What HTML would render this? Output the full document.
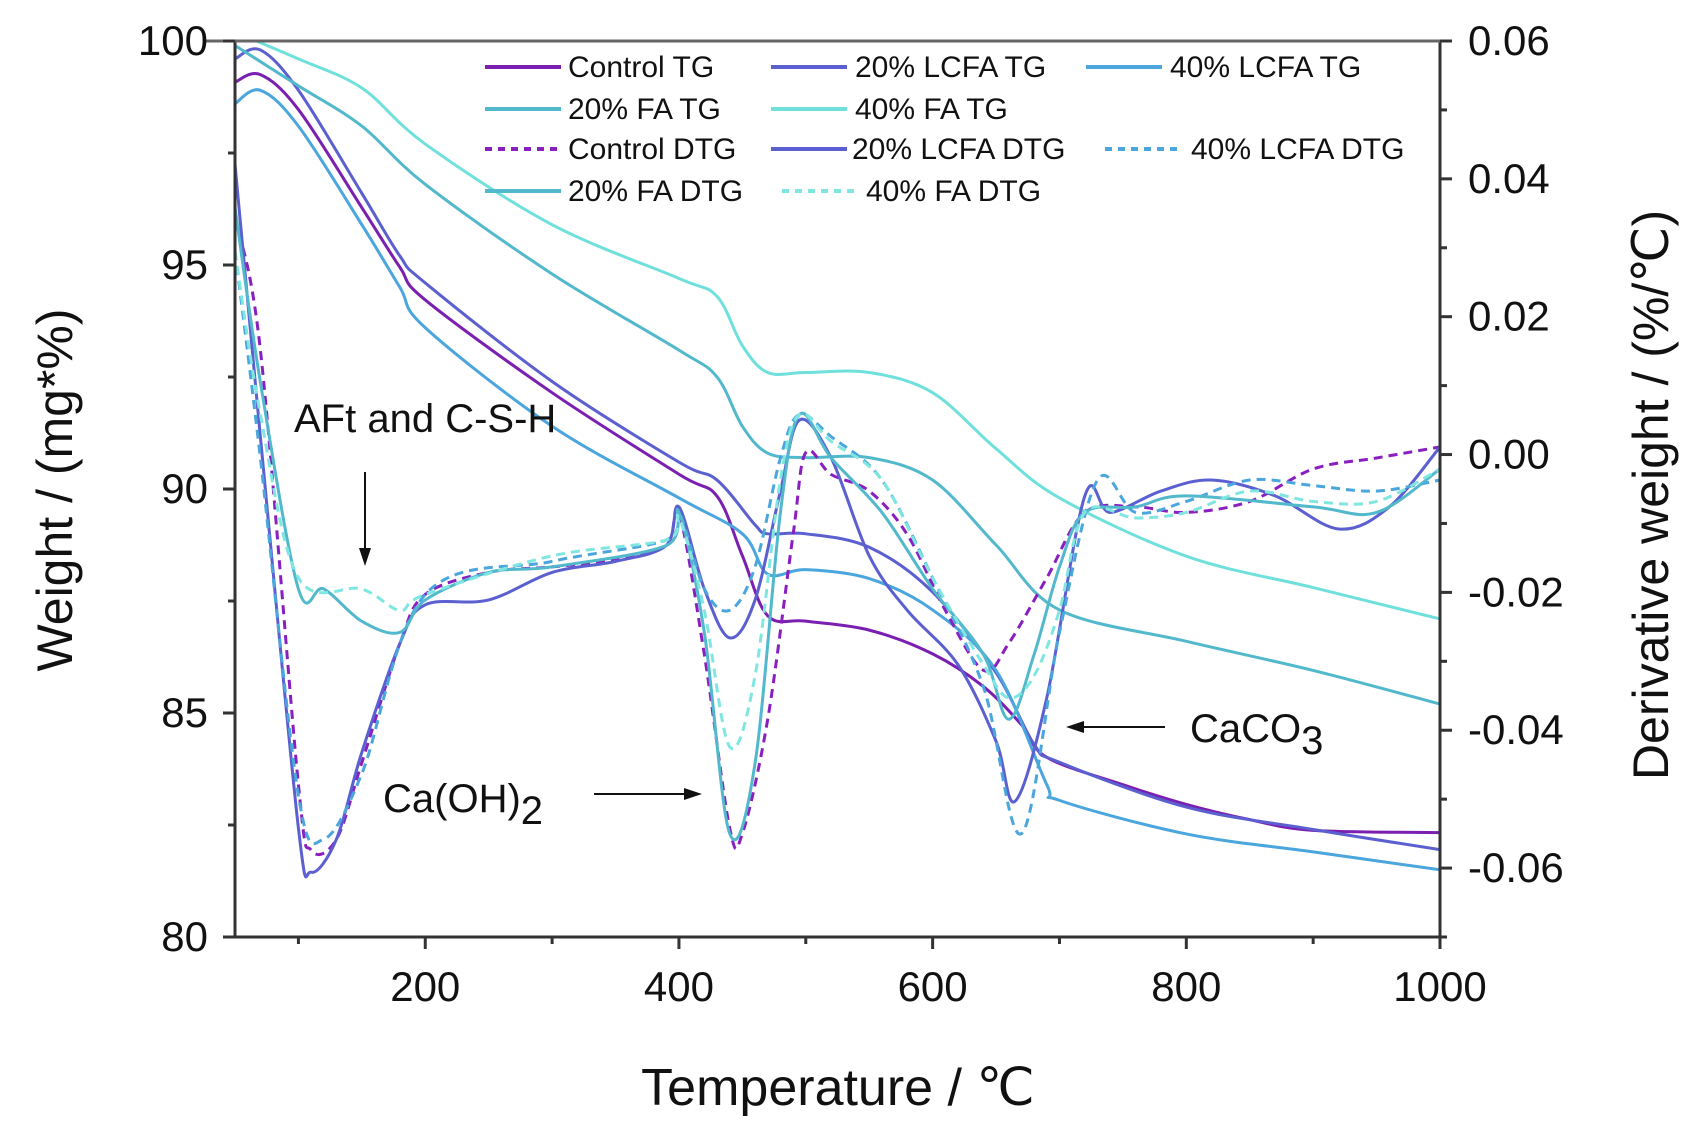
<!DOCTYPE html>
<html><head><meta charset="utf-8"><style>
html,body{margin:0;padding:0;background:#fff;}
svg{display:block;font-family:"Liberation Sans",sans-serif;}
</style></head><body>
<svg id="chart" width="1705" height="1140" viewBox="0 0 1705 1140"></svg>
<script>
const temps = [50,70,100,150,180,200,300,400,430,450,470,500,550,600,640,670,690,750,800,850,900,1000];
const controlTG = [99.08,99.25,98.47,96.28,94.95,94.22,92.15,90.33,89.84,88.51,87.17,87.05,86.85,86.32,85.59,84.74,84.01,83.40,82.96,82.62,82.38,82.33];
const lcfa20TGx = [50,70,100,150,180,200,300,400,430,460,470,500,550,600,650,680,700,800,900,1000];
const lcfa20TG = [99.6,99.8,98.9,96.6,95.2,94.6,92.4,90.6,90.2,89.2,89.0,89.0,88.7,87.7,85.9,84.3,83.9,82.9,82.4,81.95];
const lcfa40TGx = [50,70,100,150,180,200,300,400,450,470,500,550,600,650,690,700,800,900,1000];
const lcfa40TG = [98.6,98.9,98.1,95.9,94.5,93.6,91.4,89.8,89.0,88.1,88.2,88.0,87.3,85.95,83.4,83.05,82.3,81.9,81.5];
const fa20TGx = [50,100,150,200,300,400,430,450,470,500,550,600,650,700,800,900,1000];
const fa20TG = [99.9,99.0,98.1,96.8,94.8,93.1,92.5,91.4,90.8,90.7,90.7,90.2,88.75,87.3,86.6,85.95,85.2];
const fa40TGx = [50,100,150,200,300,400,430,450,470,500,550,600,650,700,800,900,1000];
const fa40TG = [100.2,99.6,98.95,97.7,95.9,94.7,94.3,93.2,92.6,92.6,92.6,92.15,90.9,89.8,88.5,87.8,87.1];

const ctrlDTGx = [50,70,100,110,130,150,180,200,250,300,350,390,400,420,440,450,470,490,500,520,550,580,610,640,660,690,720,760,800,850,900,950,1000];
const ctrlDTG = [0.0342,0.0152,-0.0479,-0.0574,-0.0558,-0.0447,-0.0274,-0.0203,-0.0171,-0.0163,-0.0152,-0.0132,-0.0084,-0.0290,-0.0542,-0.0550,-0.0384,-0.0116,0.0003,-0.0029,-0.0053,-0.0116,-0.0226,-0.0313,-0.0274,-0.0179,-0.0084,-0.0076,-0.0084,-0.0068,-0.0021,-0.0005,0.0011];
const lcfa20DTGx = [50,70,100,110,130,150,180,200,250,300,350,390,400,420,440,460,480,495,520,550,580,620,650,665,690,720,740,780,820,870,920,960,1000];
const lcfa20DTG = [0.0421,0.0026,-0.0542,-0.0606,-0.0558,-0.0432,-0.0274,-0.0218,-0.0211,-0.0171,-0.0155,-0.0132,-0.0076,-0.0195,-0.0266,-0.0211,-0.0053,0.0050,-0.0005,-0.0147,-0.0226,-0.0305,-0.0416,-0.0503,-0.0353,-0.0060,-0.0084,-0.0053,-0.0037,-0.0060,-0.0108,-0.0076,0.0011];
const lcfa40DTGx = [50,70,100,120,150,200,300,390,400,420,440,460,480,495,520,560,600,640,670,700,730,760,800,850,900,950,1000];
const lcfa40DTG = [0.0295,-0.0005,-0.0495,-0.0558,-0.0463,-0.0203,-0.0155,-0.0124,-0.0084,-0.0195,-0.0226,-0.0163,-0.0005,0.0058,0.0026,-0.0037,-0.0179,-0.0337,-0.0550,-0.0258,-0.0037,-0.0084,-0.0068,-0.0037,-0.0045,-0.0053,-0.0037];
const fa20DTGx = [50,70,100,120,150,180,200,250,300,390,400,420,440,460,480,495,520,560,600,640,660,680,700,720,760,800,900,950,1000];
const fa20DTG = [0.0358,0.0105,-0.0195,-0.0195,-0.0242,-0.0258,-0.0211,-0.0171,-0.0163,-0.0132,-0.0084,-0.0258,-0.0550,-0.0448,-0.0084,0.0058,-0.0005,-0.0084,-0.0195,-0.0290,-0.0384,-0.0290,-0.0163,-0.0084,-0.0076,-0.0060,-0.0076,-0.0084,-0.0021];
const fa40DTGx = [50,70,100,150,180,200,300,390,400,420,440,460,480,495,520,560,600,640,660,680,700,720,760,800,850,900,950,1000];
const fa40DTG = [0.0295,0.0058,-0.0179,-0.0195,-0.0226,-0.0203,-0.0147,-0.0124,-0.0092,-0.0226,-0.0424,-0.0321,-0.0037,0.0058,0.0019,-0.0037,-0.0179,-0.0305,-0.0353,-0.0321,-0.0226,-0.0084,-0.0092,-0.0084,-0.0053,-0.0068,-0.0068,-0.0021];

const xTicks = [200,400,600,800,1000];
const xMinor = [100,300,500,700,900];
const yTicks = [80,85,90,95,100];
const yMinor = [82.5,87.5,92.5,97.5];
const y2Ticks = [-0.06,-0.04,-0.02,0.00,0.02,0.04,0.06];
const y2Labels = ["-0.06","-0.04","-0.02","0.00","0.02","0.04","0.06"];
const y2Minor = [-0.07,-0.05,-0.03,-0.01,0.01,0.03,0.05];

const L=235,R=1440,T=41,B=937;
const xS=v=>L+(v-50)/950*(R-L);
const yS=v=>B-(v-80)/20*(B-T);
const y2S=v=>B-(v+0.07)/0.13*(B-T);
const NS="http://www.w3.org/2000/svg";
const svg=document.getElementById('chart');
function mk(tag,attrs,parent){const e=document.createElementNS(NS,tag);for(const k in attrs)e.setAttribute(k,attrs[k]);(parent||svg).appendChild(e);return e;}
function smooth(pts){let d=`M${pts[0][0]},${pts[0][1]}`;for(let i=0;i<pts.length-1;i++){const p0=pts[i-1]||pts[i],p1=pts[i],p2=pts[i+1],p3=pts[i+2]||p2;const c1x=p1[0]+(p2[0]-p0[0])/6,c1y=p1[1]+(p2[1]-p0[1])/6,c2x=p2[0]-(p3[0]-p1[0])/6,c2y=p2[1]-(p3[1]-p1[1])/6;d+=` C${c1x},${c1y} ${c2x},${c2y} ${p2[0]},${p2[1]}`;}return d;}

const defs=mk('defs',{});
const cp=mk('clipPath',{id:'clip'},defs);mk('rect',{x:L,y:T,width:R-L,height:B-T},cp);
const plot=mk('g',{'clip-path':'url(#clip)'});



const series=[
 {name:'control-tg',xs:temps,ys:controlTG,y:yS,c:'#7a1fb0',dash:null},
 {name:'lcfa20-tg',xs:lcfa20TGx,ys:lcfa20TG,y:yS,c:'#5b5fcf',dash:null},
 {name:'lcfa40-tg',xs:lcfa40TGx,ys:lcfa40TG,y:yS,c:'#4aa6dc',dash:null},
 {name:'fa20-tg',xs:fa20TGx,ys:fa20TG,y:yS,c:'#52b8cc',dash:null},
 {name:'fa40-tg',xs:fa40TGx,ys:fa40TG,y:yS,c:'#6fe0dc',dash:null},
 {name:'control-dtg',xs:ctrlDTGx,ys:ctrlDTG,y:y2S,c:'#8a1fc0',dash:'9,6'},
 {name:'lcfa20-dtg',xs:lcfa20DTGx,ys:lcfa20DTG,y:y2S,c:'#5b5fcf',dash:null},
 {name:'lcfa40-dtg',xs:lcfa40DTGx,ys:lcfa40DTG,y:y2S,c:'#4aa6dc',dash:'9,6'},
 {name:'fa20-dtg',xs:fa20DTGx,ys:fa20DTG,y:y2S,c:'#52b8cc',dash:null},
 {name:'fa40-dtg',xs:fa40DTGx,ys:fa40DTG,y:y2S,c:'#7fe6e0',dash:'9,6'}
];
series.forEach(s=>{const pts=s.xs.map((x,i)=>[xS(x),s.y(s.ys[i])]);const a={d:smooth(pts),fill:'none',stroke:s.c,'stroke-width':3};if(s.dash)a['stroke-dasharray']=s.dash;const p=mk('path',a,plot);

});

const ax=mk('g',{stroke:'#333','stroke-width':3,fill:'none'});


mk('line',{x1:L,y1:T,x2:L,y2:B},ax);
mk('line',{x1:L,y1:B,x2:R+4,y2:B},ax);
mk('line',{x1:R,y1:T,x2:R,y2:B+10},ax);
mk('line',{x1:L-32,y1:T,x2:R,y2:T,stroke:'#666'},ax);
xTicks.forEach(v=>{mk('line',{x1:xS(v),y1:B,x2:xS(v),y2:B+12},ax);const t=mk('text',{x:xS(v),y:B+64,'text-anchor':'middle','font-size':42,fill:'#111',stroke:'none'});t.textContent=v;

});
xMinor.forEach(v=>mk('line',{x1:xS(v),y1:B,x2:xS(v),y2:B+7},ax));
yTicks.forEach(v=>{mk('line',{x1:L,y1:yS(v),x2:L-12,y2:yS(v)},ax);const t=mk('text',{x:208,y:yS(v)+14,'text-anchor':'end','font-size':42,fill:'#111',stroke:'none'});t.textContent=v;

});
yMinor.forEach(v=>mk('line',{x1:L,y1:yS(v),x2:L-7,y2:yS(v)},ax));
y2Ticks.forEach((v,i)=>{mk('line',{x1:R,y1:y2S(v),x2:R+12,y2:y2S(v)},ax);const t=mk('text',{x:1468,y:y2S(v)+14,'font-size':42,fill:'#111',stroke:'none'});t.textContent=y2Labels[i];

});
y2Minor.forEach(v=>mk('line',{x1:R,y1:y2S(v),x2:R+7,y2:y2S(v)},ax));
</script>
<script>
(function(){
const svg=document.getElementById('chart');const NS="http://www.w3.org/2000/svg";
function mk(tag,attrs,parent){const e=document.createElementNS(NS,tag);for(const k in attrs)e.setAttribute(k,attrs[k]);(parent||svg).appendChild(e);return e;}
let t=mk('text',{x:838,y:1105,'text-anchor':'middle','font-size':52,fill:'#111'});t.textContent='Temperature / ℃';


t=mk('text',{x:0,y:0,'text-anchor':'middle','font-size':50,fill:'#111',transform:'translate(72,490) rotate(-90)'});t.textContent='Weight / (mg*%)';


t=mk('text',{x:0,y:0,'text-anchor':'middle','font-size':50,fill:'#111',transform:'translate(1668,495) rotate(-90)'});t.textContent='Derivative weight / (%/℃)';



const leg=[
 ['#7a1fb0',null,'Control TG',485,561,568,67],['#5b5fcf',null,'20% LCFA TG',771,847,855,67],['#4aa6dc',null,'40% LCFA TG',1086,1162,1170,67],
 ['#52b8cc',null,'20% FA TG',485,561,568,109],['#6fe0dc',null,'40% FA TG',771,847,855,109],
 ['#8a1fc0','7,6','Control DTG',485,561,568,149],['#5b5fcf',null,'20% LCFA DTG',771,847,852,149],['#4aa6dc','7,6','40% LCFA DTG',1105,1181,1191,149],
 ['#52b8cc',null,'20% FA DTG',485,561,568,191],['#7fe6e0','7,6','40% FA DTG',782,860,866,191]];
const g=mk('g',{});


leg.forEach(l=>{const a={x1:l[3],y1:l[6],x2:l[4],y2:l[6],stroke:l[0],'stroke-width':4};if(l[1])a['stroke-dasharray']=l[1];mk('line',a,g);
const tx=mk('text',{x:l[5],y:l[6]+10,'font-size':30,fill:'#111'},g);tx.textContent=l[2];

});

const an=mk('g',{fill:'#111'});


t=mk('text',{x:294,y:432,'font-size':40},an);t.textContent='AFt and C-S-H';
mk('line',{x1:365,y1:472,x2:365,y2:552,stroke:'#111','stroke-width':2},an);
mk('polygon',{points:'359,548 371,548 365,566'},an);
t=mk('text',{x:383,y:812,'font-size':40},an);t.innerHTML='Ca(OH)<tspan dy="12" font-size="40">2</tspan>';
mk('line',{x1:594,y1:794,x2:688,y2:794,stroke:'#111','stroke-width':2},an);
mk('polygon',{points:'684,788 684,800 702,794'},an);
t=mk('text',{x:1190,y:742,'font-size':40},an);t.innerHTML='CaCO<tspan dy="12" font-size="40">3</tspan>';
mk('line',{x1:1080,y1:727,x2:1165,y2:727,stroke:'#111','stroke-width':2},an);
mk('polygon',{points:'1084,721 1084,733 1066,727'},an);
})();
</script>
</body></html>
